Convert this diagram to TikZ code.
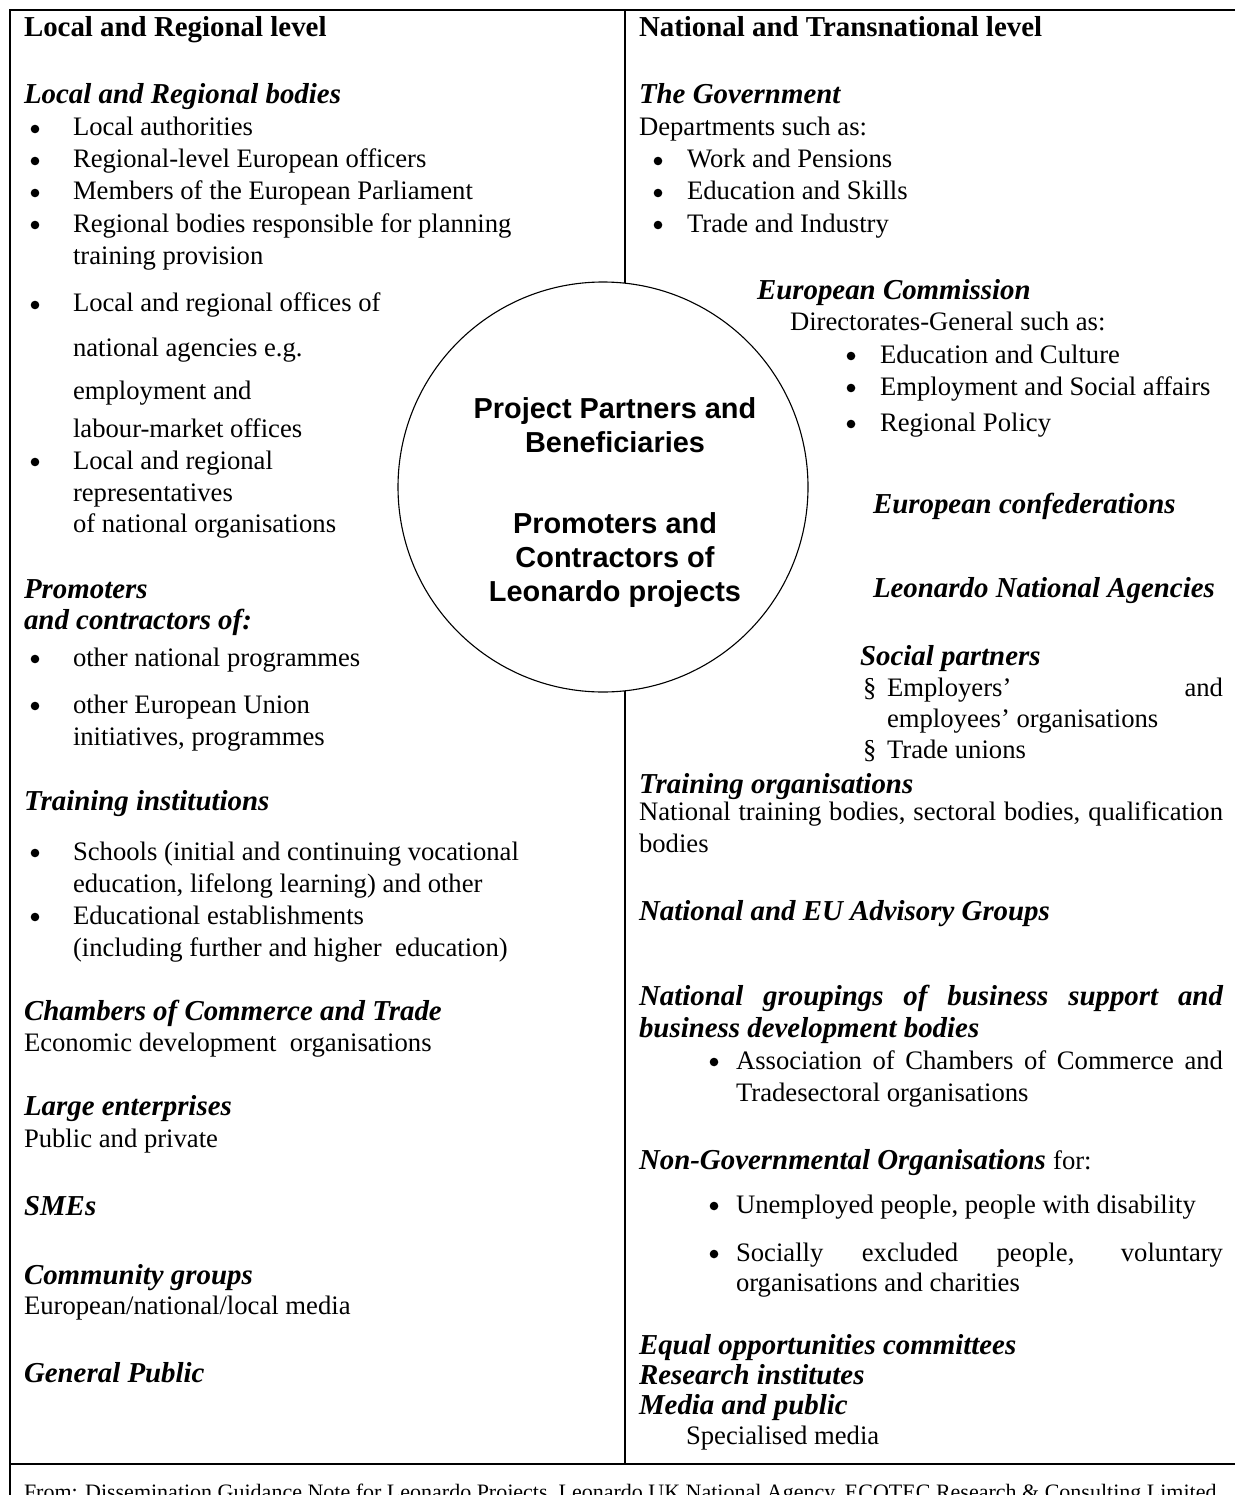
\documentclass[tikz,border=0pt]{standalone}
\usepackage{fontspec}
\setmainfont{Liberation Serif}
\newfontfamily\hubfont{Liberation Sans}
\newdimen\pxu \pxu=0.45pt
\newcommand{\spread}[2]{\makebox[#1\pxu][s]{#2}}
\tikzset{
  lvl/.style={anchor=base west, inner sep=0pt, outer sep=0pt, font=\fontsize{13}{15}\selectfont\bfseries},
  grp/.style={anchor=base west, inner sep=0pt, outer sep=0pt, font=\fontsize{13}{15}\selectfont\bfseries\itshape},
  itm/.style={anchor=base west, inner sep=0pt, outer sep=0pt, font=\fontsize{12}{14}\selectfont},
  frame/.style={line width=0.75pt},
  hubtxt/.style={anchor=base, align=center, inner sep=0pt, font=\hubfont\fontsize{13}{15.3}\selectfont\bfseries}
}
\begin{document}
\begin{tikzpicture}[x=\pxu, y=-\pxu]
  \useasboundingbox (0,0) rectangle (1235,1495);
  % frame and column split
  \draw[frame] (1235,10) -- (10,10) -- (10,1495);
  \draw[frame] (10,1464) -- (1235,1464);
  \draw[frame] (625,10) -- (625,283);
  \draw[frame] (625,691) -- (625,1464);
  % centre circle (base anchor sits on the last line)
  \node[circle, draw, line width=0.5pt, minimum size=410\pxu, inner sep=0pt] (hub) at (603,487) {};
  \node[hubtxt] (hubA) at (615,452) {Project Partners and\\Beneficiaries};
  \node[hubtxt] (hubB) at (615,601) {Promoters and\\Contractors of\\Leonardo projects};

  % list bullets
  \foreach \x/\y in {35/136, 35/168, 35/200, 35/232, 35/312, 35/469, 35/666, 35/713, 35/860, 35/924,
                     658/168, 658/200, 658/232, 851/363, 851/395, 851/431, 714/1069, 714/1213, 714/1261}
    \fill (\x,\y-7) circle (4.3);

  % left column
  \node[lvl] (lhead) at (24,37) {Local and Regional level};
  \node[grp] (lbod) at (24,104) {Local and Regional bodies};
  \node[itm] (lbod1) at (73,136) {Local authorities};
  \node[itm] (lbod2) at (73,168) {Regional-level European officers};
  \node[itm] (lbod3) at (73,200) {Members of the European Parliament};
  \node[itm] (lbod4) at (73,232) {Regional bodies responsible for planning};
  \node[itm] (lbod4b) at (73,264) {training provision};
  \node[itm] (lbod5) at (73,312) {Local and regional offices of};
  \node[itm] (lbod5b) at (73,356) {national agencies e.g.};
  \node[itm] (lbod5c) at (73,399) {employment and};
  \node[itm] (lbod5d) at (73,437) {labour-market offices};
  \node[itm] (lbod6) at (73,469) {Local and regional};
  \node[itm] (lbod6b) at (73,501) {representatives};
  \node[itm] (lbod6c) at (73,532) {of national organisations};
  \node[grp] (lpro) at (24,598) {Promoters};
  \node[grp] (lprob) at (24,629) {and contractors of:};
  \node[itm] (lpro1) at (73,666) {other national programmes};
  \node[itm] (lpro2) at (73,713) {other European Union};
  \node[itm] (lpro2b) at (73,745) {initiatives, programmes};
  \node[grp] (ltrn) at (24,810) {Training institutions};
  \node[itm] (ltrn1) at (73,860) {Schools (initial and continuing vocational};
  \node[itm] (ltrn1b) at (73,892) {education, lifelong learning) and other};
  \node[itm] (ltrn2) at (73,924) {Educational establishments};
  \node[itm] (ltrn2b) at (73,956) {(including further and higher\ \ education)};
  \node[grp] (lcham) at (24,1020) {Chambers of Commerce and Trade};
  \node[itm] (lchamb) at (24,1051) {Economic development\ \ organisations};
  \node[grp] (lent) at (24,1115) {Large enterprises};
  \node[itm] (lentb) at (24,1147) {Public and private};
  \node[grp] (lsme) at (24,1215) {SMEs};
  \node[grp] (lcom) at (24,1284) {Community groups};
  \node[itm] (lcomb) at (24,1314) {European/national/local media};
  \node[grp] (lpub) at (24,1382) {General Public};

  % right column
  \node[lvl] (rhead) at (639,37) {National and Transnational level};
  \node[grp] (rgov) at (639,104) {The Government};
  \node[itm] (rgovb) at (639,136) {Departments such as:};
  \node[itm] (rgov1) at (687,168) {Work and Pensions};
  \node[itm] (rgov2) at (687,200) {Education and Skills};
  \node[itm] (rgov3) at (687,232) {Trade and Industry};
  \node[grp] (rcom) at (757,300) {European Commission};
  \node[itm] (rcomb) at (790,331) {Directorates-General such as:};
  \node[itm] (rcom1) at (880,363) {Education and Culture};
  \node[itm] (rcom2) at (880,395) {Employment and Social affairs};
  \node[itm] (rcom3) at (880,431) {Regional Policy};
  \node[grp] (rconf) at (873,513) {European confederations};
  \node[grp] (rlna) at (873,597) {Leonardo National Agencies};
  \node[grp] (rsoc) at (860,665) {Social partners};
  \node[itm] (rsoc1s) at (863,696) {\S};
  \node[itm] (rsoc1) at (887,696) {\spread{336}{Employers’ and}};
  \node[itm] (rsoc1b) at (887,727) {employees’ organisations};
  \node[itm] (rsoc2s) at (863,758) {\S};
  \node[itm] (rsoc2) at (887,758) {Trade unions};
  \node[grp] (rtrn) at (639,793) {Training organisations};
  \node[itm] (rtrnb) at (639,820) {\spread{584}{National training bodies, sectoral bodies, qualification}};
  \node[itm] (rtrnc) at (639,852) {bodies};
  \node[grp] (radv) at (639,920) {National and EU Advisory Groups};
  \node[grp] (rbus) at (639,1005) {\spread{584}{National groupings of business support and}};
  \node[grp] (rbusb) at (639,1037) {business development bodies};
  \node[itm] (rbus1) at (736,1069) {\spread{487}{Association of Chambers of Commerce and}};
  \node[itm] (rbus1b) at (736,1101) {Tradesectoral organisations};
  \node[grp] (rngo) at (639,1169) {Non-Governmental Organisations {\normalfont\fontsize{12}{14}\selectfont for:}};
  \node[itm] (rngo1) at (736,1213) {Unemployed people, people with disability};
  \node[itm] (rngo2) at (736,1261) {\spread{487}{Socially excluded people, voluntary}};
  \node[itm] (rngo2b) at (736,1291) {organisations and charities};
  \node[grp] (requ) at (639,1354) {Equal opportunities committees};
  \node[grp] (rres) at (639,1384) {Research institutes};
  \node[grp] (rmed) at (639,1414) {Media and public};
  \node[itm] (rmedb) at (686,1444) {Specialised media};

  % source line, cut by the page edge
  \node[itm, font=\fontsize{9.9}{12}\selectfont] (src) at (24,1499) {From: Dissemination Guidance Note for Leonardo Projects, Leonardo UK National Agency, ECOTEC Research \& Consulting Limited};
\end{tikzpicture}
\end{document}
